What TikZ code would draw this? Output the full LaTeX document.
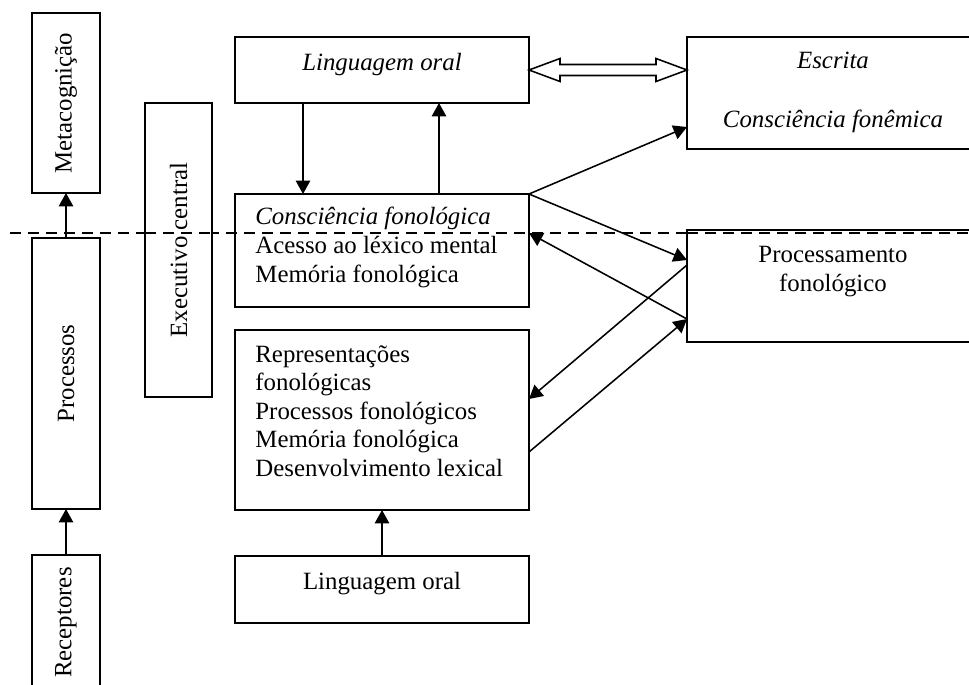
\documentclass[tikz,border=0pt]{standalone}
\usepackage{fontspec}
\setmainfont{Liberation Serif}
\usetikzlibrary{calc,arrows.meta}
\begin{document}
\begin{tikzpicture}[x=0.483pt,y=-0.483pt,
  box/.style={draw,line width=0.75pt,inner sep=0pt,outer sep=0pt},
  txt/.style={font=\fontsize{12}{14}\selectfont,inner sep=0pt,anchor=base},
  ltxt/.style={txt,anchor=base west},
  vtxt/.style={font=\fontsize{12}{14}\selectfont,inner sep=0pt,rotate=90},
  arr/.style={line width=0.75pt,-{Triangle[length=6.5pt,width=7pt]}},
  hollow/.style={line width=0.75pt,fill=white,line join=miter},
  sep/.style={line width=0.75pt,dash pattern=on 5.3pt off 3.4pt}]
\useasboundingbox (0,0) rectangle (969,685);
% dashed separator
\coordinate (dl) at (10,233);
\coordinate (dr) at (975,233);
\draw[sep] (dl) -- (dr);
% left column
\node[box,minimum width=68*0.483pt,minimum height=180*0.483pt] (meta) at (66,103) {};
\node[vtxt] (metat) at (66,103) {Metacognição};
\node[box,minimum width=68*0.483pt,minimum height=271*0.483pt] (proc) at (66,373.5) {};
\node[vtxt] (proct) at (66,373.5) {Processos};
\node[box,minimum width=68*0.483pt,minimum height=135*0.483pt] (rec) at (66,622.5) {};
\node[vtxt] (rect) at (66,622.5) {Receptores};
\node[box,fill=white,minimum width=67*0.483pt,minimum height=294*0.483pt] (exec) at (178.5,250) {};
\draw[sep] (exec.west |- dl) -- (exec.east |- dl);
\node[vtxt] (exect) at (178.5,250) {Executivo central};
% middle column
\node[box,minimum width=294*0.483pt,minimum height=66*0.483pt] (lo1) at (382,70) {};
\node[txt] (lo1t) at (382,70) {\itshape Linguagem oral};
\node[box,minimum width=294*0.483pt,minimum height=113*0.483pt] (cf) at (382,250.5) {};
\node[ltxt] (cf1) at (255,224) {\itshape Consciência fonológica};
\node[ltxt] (cf2) at (255,253) {Acesso ao léxico mental};
\node[ltxt] (cf3) at (255,282) {Memória fonológica};
\node[box,minimum width=294*0.483pt,minimum height=180*0.483pt] (rep) at (382,420) {};
\node[ltxt] (rep1) at (255,362) {Representações};
\node[ltxt] (rep2) at (255,390.5) {fonológicas};
\node[ltxt] (rep3) at (255,419) {Processos fonológicos};
\node[ltxt] (rep4) at (255,447.5) {Memória fonológica};
\node[ltxt] (rep5) at (255,476) {Desenvolvimento lexical};
\node[box,minimum width=294*0.483pt,minimum height=67*0.483pt] (lo2) at (382,589.5) {};
\node[txt] (lo2t) at (382,589) {Linguagem oral};
% right column
\node[box,minimum width=290*0.483pt,minimum height=112*0.483pt] (esc) at (832,93) {};
\node[txt] (esc1) at (833,68) {\itshape Escrita};
\node[txt] (esc2) at (833,127) {\itshape Consciência fonêmica};
\node[box,fill=white,minimum width=290*0.483pt,minimum height=112*0.483pt] (pf) at (832,286) {};
\draw[sep] (pf.west |- dl) -- (dr);
\node[txt] (pf1) at (833,262) {Processamento};
\node[txt] (pf2) at (833,291) {fonológico};
% vertical arrows
\draw[arr] (proc.north) -- (meta.south);
\draw[arr] (rec.north) -- (proc.south);
\draw[arr] (lo2.north) -- (rep.south);
\coordinate (loA) at ($(lo1.south west)+(68,0)$);
\coordinate (cfA) at ($(cf.north west)+(68,0)$);
\coordinate (loB) at ($(lo1.south west)+(204,0)$);
\coordinate (cfB) at ($(cf.north west)+(204,0)$);
\draw[arr] (loA) -- (cfA);
\draw[arr] (cfB) -- (loB);
% double hollow arrow
\coordinate (hA) at (lo1.east);
\coordinate (hB) at (esc.west |- lo1.east);
\draw[hollow] (hA) -- ++(31,-11.5) -- ++(0,6) -- ($(hB)+(-31,-5.5)$) -- ++(0,-6) -- (hB)
  -- ++(-31,11.5) -- ++(0,-6) -- ($(hA)+(31,5.5)$) -- ++(0,6) -- cycle;
% diagonal arrows
\coordinate (escA) at ($(esc.north west)+(0,90)$);
\coordinate (pfA) at ($(pf.north west)+(0,30)$);
\coordinate (pfB) at ($(pf.north west)+(0,35)$);
\coordinate (pfC) at ($(pf.north west)+(0,89)$);
\coordinate (cfC) at ($(cf.north east)+(0,39)$);
\coordinate (repA) at ($(rep.north east)+(0,69)$);
\coordinate (repB) at ($(rep.north east)+(0,122)$);
\draw[arr] (cf.north east) -- (escA);
\draw[arr] (cf.north east) -- (pfA);
\draw[arr] (pfC) -- (cfC);
\draw[arr] (pfB) -- (repA);
\draw[arr] (repB) -- (pfC);
\end{tikzpicture}
\end{document}
